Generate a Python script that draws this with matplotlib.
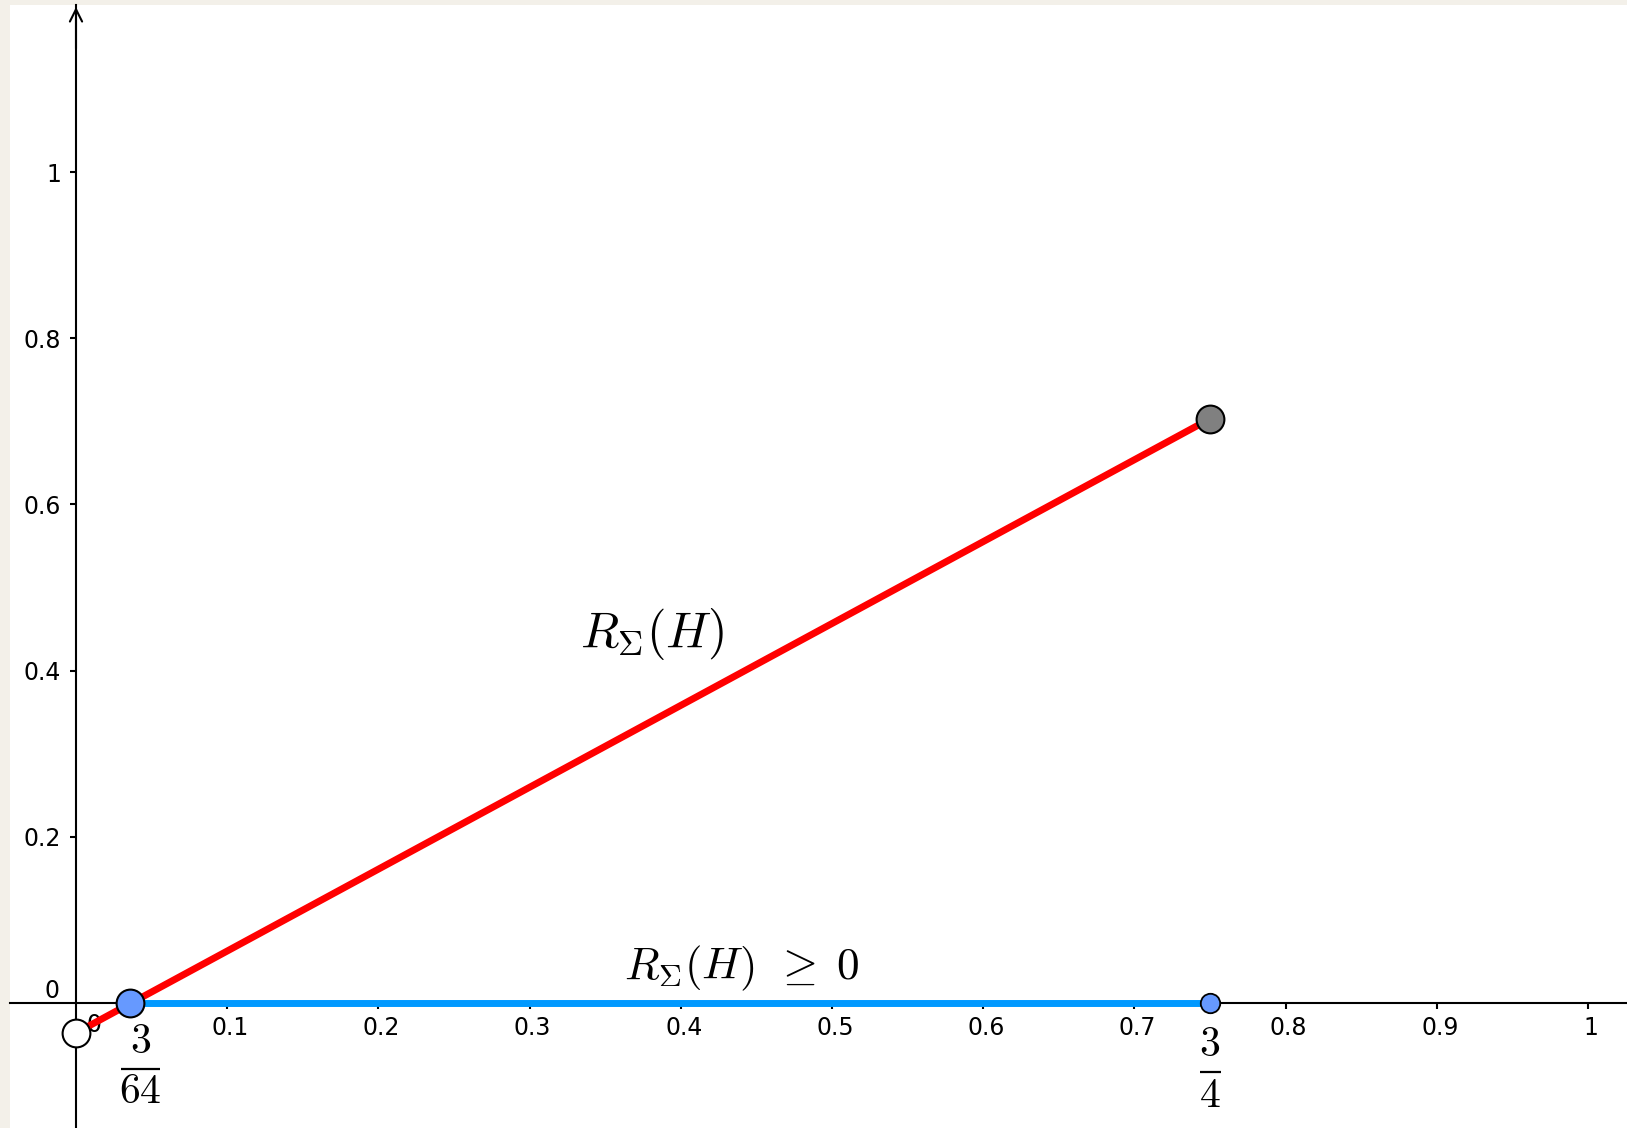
import matplotlib
matplotlib.use("Agg")
import matplotlib.pyplot as plt
from matplotlib.transforms import ScaledTranslation

plt.rcParams['mathtext.fontset'] = 'cm'
plt.rcParams['font.family'] = ['DejaVu Sans']

# ---- data ----
red_x = [0.0, 0.75]
red_y = [-0.036, 0.703]
blue_x = [0.036, 0.75]
blue_y = [0.0, 0.0]
pt_blue_big = (0.036, 0.0)
pt_blue_small = (0.75, 0.0)
pt_gray = (0.75, 0.703)
pt_white = (0.0, -0.036)
xticks = [0.1, 0.2, 0.3, 0.4, 0.5, 0.6, 0.7, 0.8, 0.9, 1.0]
xticklabels = ["0.1", "0.2", "0.3", "0.4", "0.5", "0.6", "0.7", "0.8", "0.9", "1"]
yticks = [0.2, 0.4, 0.6, 0.8, 1.0]
yticklabels = ["0.2", "0.4", "0.6", "0.8", "1"]

W, H = 1627, 1128
fig = plt.figure(figsize=(W / 100, H / 100), dpi=100)
fig.patch.set_facecolor('#f3f0e9')

left_px, top_px = 10, 5
ax = fig.add_axes([left_px / W, 0, (W - left_px) / W, (H - top_px) / H])
ax.set_facecolor('white')

ox, oy = 76, 1003          # pixel of origin
sx, sy = 1512.0, 831.0     # pixels per unit
ax.set_xlim((left_px - ox) / sx, (W - ox) / sx)
ax.set_ylim((oy - H) / sy, (oy - top_px) / sy)

def px(x, y):
    """figure-pixel (from top-left) -> data coords"""
    return (x - ox) / sx, (oy - y) / sy

for s in ['top', 'right']:
    ax.spines[s].set_visible(False)
ax.spines['left'].set_position(('data', 0))
ax.spines['bottom'].set_position(('data', 0))
for s in ['left', 'bottom']:
    ax.spines[s].set_linewidth(1.5)
    ax.spines[s].set_color('black')
    ax.spines[s].set_zorder(1)

ax.set_xticks(xticks)
ax.set_xticklabels(xticklabels)
ax.set_yticks(yticks)
ax.set_yticklabels(yticklabels)
ax.tick_params(axis='x', direction='out', length=4.3, width=1.5, labelsize=17, pad=5)
ax.tick_params(axis='y', direction='out', length=4.3, width=1.5, labelsize=17, pad=6.5)
shift = ScaledTranslation(3 / 100, 0, fig.dpi_scale_trans)
for lab in ax.get_xticklabels():
    lab.set_transform(lab.get_transform() + shift)

# y-axis arrow head
ytop = (oy - 7) / sy
ax.annotate('', xy=(0, ytop), xytext=(0, ytop - 0.05),
            arrowprops=dict(arrowstyle='->', lw=1.5, color='black',
                            mutation_scale=22, shrinkA=0, shrinkB=0),
            zorder=2)

# origin "0" labels
ax.text(*px(59, 998), "0", fontsize=17, ha='right', va='baseline')
ax.text(*px(87, 1032), "0", fontsize=17, ha='left', va='baseline', zorder=3)

# lines
ax.plot(red_x, red_y, color='#ff0000', lw=5, solid_capstyle='butt', zorder=4)
ax.plot(blue_x, blue_y, color='#0099ff', lw=5, solid_capstyle='butt', zorder=4)

# points
ax.plot(*pt_white, 'o', ms=20, mfc='white', mec='black', mew=1.5, zorder=6)
ax.plot(*pt_blue_big, 'o', ms=20, mfc='#6699ff', mec='black', mew=1.5, zorder=6)
ax.plot(*pt_blue_small, 'o', ms=14, mfc='#6699ff', mec='black', mew=1.3, zorder=6)
ax.plot(*pt_gray, 'o', ms=20, mfc='#808080', mec='black', mew=1.5, zorder=6)

# math labels
ax.text(*px(580, 647), r"$R_{\Sigma}(H)$", fontsize=36, ha='left', va='baseline')
ax.text(*px(624, 979), r"$R_{\Sigma}(H)\;\,\geq\;0$", fontsize=32.6,
        ha='left', va='baseline')

# fractions built as numerator / bar / denominator
def frac(num, den, cx, num_base, bar_y, bar_w, den_base, size=30):
    ax.text(*px(cx, num_base), rf"${num}$", fontsize=size, ha='center', va='baseline')
    x0, y0 = px(cx - bar_w / 2, bar_y)
    x1, _ = px(cx + bar_w / 2, bar_y)
    ax.plot([x0, x1], [y0, y0], color='black', lw=1.6, solid_capstyle='butt')
    ax.text(*px(cx, den_base), rf"${den}$", fontsize=size, ha='center', va='baseline')

frac("3", "64", 140.5, 1053, 1069, 39, 1103)
frac("3", "4", 1210, 1056, 1072, 21, 1107)

fig.savefig("out.png", dpi=100, facecolor=fig.get_facecolor())
